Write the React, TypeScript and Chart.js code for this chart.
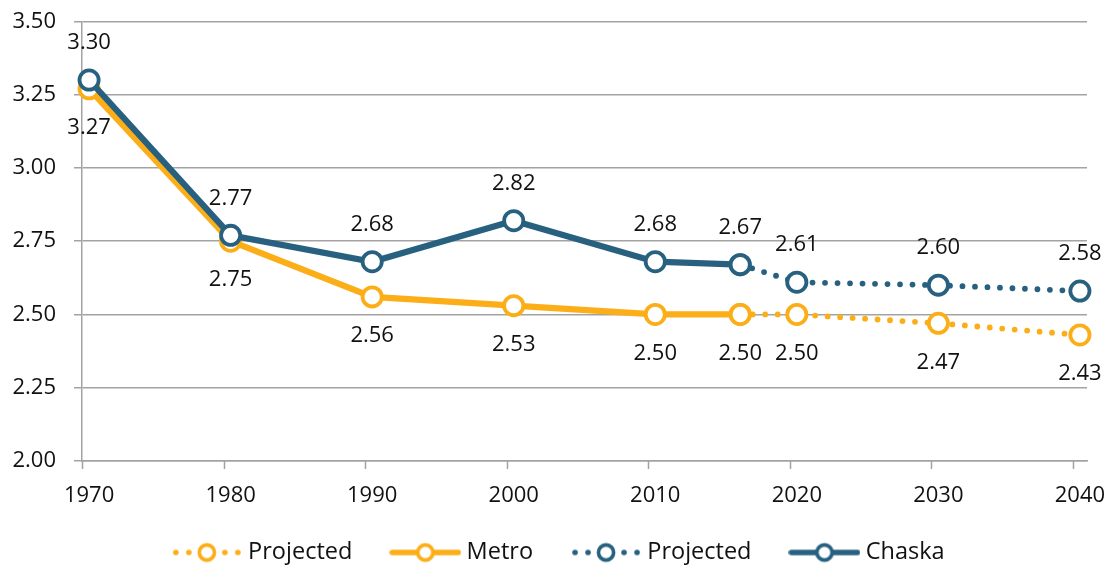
import React, { useEffect, useRef } from "react";
import { Chart, registerables } from "chart.js";

Chart.register(...registerables);

// ---- data ----
const histYears = [1970, 1980, 1990, 2000, 2010, 2016];
const projYears = [2016, 2020, 2030, 2040];
const metroHist = [3.27, 2.75, 2.56, 2.53, 2.5, 2.5];
const metroProj = [2.5, 2.5, 2.47, 2.43];
const chaskaHist = [3.3, 2.77, 2.68, 2.82, 2.68, 2.67];
const chaskaProj = [2.67, 2.61, 2.6, 2.58];
const xTickValues = [1970, 1980, 1990, 2000, 2010, 2020, 2030, 2040];
const yTickValues = [2.0, 2.25, 2.5, 2.75, 3.0, 3.25, 3.5];
const legendNames = ["Projected", "Metro", "Projected", "Chaska"];

// ---- styles ----
const ORANGE = "#FBAE17";
const BLUE = "#27617F";
const GRID = "#A3A3A3";
const TEXT = "#111111";
const FONT = "'Open Sans', 'Noto Sans', sans-serif";
const FONT_SIZE = 22;
const LEGEND_FONT_SIZE = 23.5;
const W = 1100;
const H = 559;

function makeLegendIcon(color: string, dotted: boolean): HTMLCanvasElement {
  const c = document.createElement("canvas");
  c.width = 72;
  c.height = 24;
  const g = c.getContext("2d")!;
  g.strokeStyle = color;
  g.fillStyle = color;
  if (dotted) {
    [5, 18, 54, 67].forEach((x) => {
      g.beginPath();
      g.arc(x, 12, 2.8, 0, Math.PI * 2);
      g.fill();
    });
  } else {
    g.lineWidth = 5.5;
    g.lineCap = "round";
    g.beginPath();
    g.moveTo(3, 12);
    g.lineTo(69, 12);
    g.stroke();
  }
  g.beginPath();
  g.arc(36, 12, 7.6, 0, Math.PI * 2);
  g.fillStyle = "#ffffff";
  g.fill();
  g.lineWidth = 3.6;
  g.strokeStyle = color;
  g.stroke();
  return c;
}

const toPoints = (xs: number[], ys: number[]) => xs.map((x, i) => ({ x, y: ys[i] }));

export default function App() {
  const ref = useRef<HTMLCanvasElement | null>(null);

  useEffect(() => {
    if (!ref.current) return;

    // label side per dataset index: -1 above, +1 below; skip first for projections
    const labelSide = [-1, -1, 1, 1];
    const skipFirst = [false, true, false, true];

    const valueLabels = {
      id: "valueLabels",
      afterDatasetsDraw(chart: any) {
        const ctx = chart.ctx;
        ctx.save();
        ctx.font = `${FONT_SIZE}px ${FONT}`;
        ctx.fillStyle = TEXT;
        ctx.textAlign = "center";
        ctx.textBaseline = "middle";
        chart.data.datasets.forEach((ds: any, di: number) => {
          const meta = chart.getDatasetMeta(di);
          meta.data.forEach((pt: any, i: number) => {
            if (skipFirst[di] && i === 0) return;
            const v = ds.data[i].y as number;
            const off = labelSide[di] < 0 ? -37 : 39;
            ctx.fillText(v.toFixed(2), pt.x, pt.y + off);
          });
        });
        ctx.restore();
      },
    };

    const xTickMarks = {
      id: "xTickMarks",
      beforeDatasetsDraw(chart: any) {
        const ctx = chart.ctx;
        const xs = chart.scales.x;
        const bottom = chart.chartArea.bottom;
        ctx.save();
        ctx.strokeStyle = GRID;
        ctx.lineWidth = 1.5;
        xTickValues.forEach((v) => {
          const px = Math.round(xs.getPixelForValue(v - 0.5)) + 0.5;
          ctx.beginPath();
          ctx.moveTo(px, bottom);
          ctx.lineTo(px, bottom + 8);
          ctx.stroke();
        });
        ctx.restore();
      },
    };

    // place the legend row where the reference has it
    const legendPlacement = {
      id: "legendPlacement",
      afterLayout(chart: any) {
        const lg = chart.legend;
        if (!lg) return;
        const dy = 489.25 - lg.top;
        lg.top += dy;
        lg.bottom += dy;
        lg.left += 13.5;
        lg.right += 13.5;
      },
    };

    const solid = (color: string) => ({
      borderColor: color,
      backgroundColor: "#ffffff",
      borderWidth: 6.2,
      pointRadius: 9.6,
      pointBorderWidth: 3.8,
      pointBackgroundColor: "#ffffff",
      pointBorderColor: color,
      tension: 0,
      clip: false as any,
    });
    const dotted = (color: string) => ({
      ...solid(color),
      borderWidth: 5.8,
      borderDash: [0, 12.5],
      borderCapStyle: "round" as const,
    });

    const icons = [
      makeLegendIcon(ORANGE, true),
      makeLegendIcon(ORANGE, false),
      makeLegendIcon(BLUE, true),
      makeLegendIcon(BLUE, false),
    ];

    const chart = new Chart(ref.current, {
      type: "line",
      data: {
        datasets: [
          { label: "Chaska", data: toPoints(histYears, chaskaHist), ...solid(BLUE) },
          { label: "Projected", data: toPoints(projYears, chaskaProj), ...dotted(BLUE) },
          { label: "Metro", data: toPoints(histYears, metroHist), ...solid(ORANGE) },
          { label: "Projected", data: toPoints(projYears, metroProj), ...dotted(ORANGE) },
        ] as any,
      },
      options: {
        animation: false,
        responsive: false,
        events: [],
        layout: { padding: { top: 11, left: 0, right: 21, bottom: -20 } },
        scales: {
          x: {
            type: "linear",
            min: 1969.5,
            max: 2040.5,
            afterBuildTicks: (scale: any) => {
              scale.ticks = xTickValues.map((v) => ({ value: v }));
            },
            afterFit: (scale: any) => {
              scale.height = 49;
              scale.paddingLeft = 0;
              scale.paddingRight = 0;
            },
            ticks: {
              includeBounds: false,
              autoSkip: false,
              maxRotation: 0,
              padding: 22,
              color: TEXT,
              font: { family: FONT, size: FONT_SIZE },
              callback: (v: any) => String(v),
            },
            grid: { display: false, drawTicks: false },
            border: { display: true, color: GRID, width: 1.5 },
          },
          y: {
            type: "linear",
            min: 2,
            max: 3.5,
            afterBuildTicks: (scale: any) => {
              scale.ticks = yTickValues.map((v) => ({ value: v }));
            },
            afterFit: (scale: any) => {
              scale.width = 74;
              scale.paddingTop = 0;
              scale.paddingBottom = 0;
            },
            ticks: {
              padding: 18,
              color: TEXT,
              font: { family: FONT, size: FONT_SIZE },
              callback: (v: any) => Number(v).toFixed(2),
            },
            grid: { color: GRID, lineWidth: 1.5, tickLength: 8, drawTicks: true },
            border: { display: true, color: GRID, width: 1.5 },
          },
        },
        plugins: {
          tooltip: { enabled: false },
          legend: {
            display: true,
            position: "bottom",
            labels: {
              usePointStyle: true,
              pointStyleWidth: 59,
              padding: 43.5,
              color: TEXT,
              font: { family: FONT, size: LEGEND_FONT_SIZE },
              generateLabels: () =>
                legendNames.map((text, i) => ({
                  text,
                  pointStyle: icons[i] as any,
                  fillStyle: "rgba(0,0,0,0)",
                  strokeStyle: "rgba(0,0,0,0)",
                  lineWidth: 0,
                  hidden: false,
                  fontColor: TEXT,
                  datasetIndex: i,
                })),
            },
          },
        },
      } as any,
      plugins: [xTickMarks, valueLabels, legendPlacement],
    });

    return () => chart.destroy();
  }, []);

  return (
    <div style={{ position: "absolute", left: 8, top: 8, width: W, height: H }}>
      <canvas ref={ref} width={W} height={H} style={{ display: "block" }} />
    </div>
  );
}
